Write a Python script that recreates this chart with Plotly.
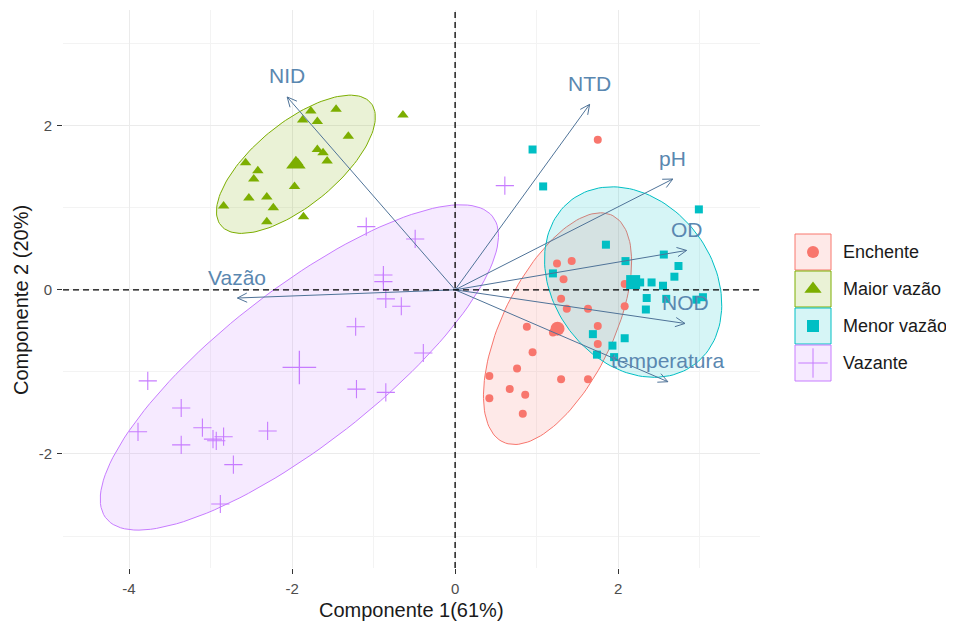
import numpy as np
import plotly.graph_objects as go

# ---------------- data ----------------
groups = ["Enchente", "Maior vazão", "Menor vazão", "Vazante"]
colors = ["#F8766D", "#7CAE00", "#00BFC4", "#C77CFF"]

ench_x = [1.75, 1.25, 1.43, 1.33, 2.08, 1.30, 1.37, 1.63, 2.08, 1.75, 0.88, 1.20, 1.75,
          0.95, 0.76, 0.42, 1.30, 1.63, 0.67, 0.86, 0.42, 0.83]
ench_y = [1.83, 0.32, 0.35, 0.13, 0.07, -0.11, -0.23, -0.23, -0.20, -0.44, -0.45, -0.52, -0.66,
          -0.76, -0.96, -1.05, -1.09, -1.09, -1.21, -1.28, -1.32, -1.51]

maior_x = [-1.77, -1.46, -0.64, -1.87, -1.69, -1.31, -1.69, -1.62, -1.57, -2.57, -2.42,
           -2.47, -1.97, -2.53, -2.31, -2.23, -2.84, -1.86, -2.31, -1.93]
maior_y = [2.18, 2.20, 2.13, 2.07, 2.05, 1.87, 1.71, 1.67, 1.57, 1.55, 1.45,
           1.35, 1.26, 1.12, 1.13, 1.00, 1.02, 0.89, 0.83, 1.55]

menor_x = [0.95, 1.08, 2.99, 1.85, 2.09, 2.56, 2.74, 1.20, 2.69, 2.18, 2.27, 2.41, 2.55,
           2.35, 2.59, 2.96, 3.04, 2.34, 1.69, 2.08, 1.93, 1.74, 1.95]
menor_y = [1.71, 1.26, 0.98, 0.55, 0.35, 0.43, 0.29, 0.20, 0.16, 0.09, 0.09, 0.09, 0.05,
           -0.10, -0.11, -0.12, -0.09, -0.24, -0.54, -0.59, -0.68, -0.79, -0.82]

vaz_x = [-1.09, -0.49, -0.88, -0.88, -0.85, -0.66, -1.22, -0.39, -1.21, -0.85, -3.77,
         -3.36, -3.89, -3.36, -3.10, -2.97, -2.93, -2.84, -2.30, -2.72, -2.88, 0.61]
vaz_y = [0.77, 0.62, 0.18, 0.10, -0.11, -0.20, -0.45, -0.77, -1.21, -1.25, -1.11,
         -1.44, -1.73, -1.89, -1.68, -1.82, -1.84, -1.79, -1.72, -2.13, -2.61, 1.27]

var_names = ["NID", "NTD", "pH", "OD", "NOD", "temperatura", "Vazão"]
var_x = [-2.06, 1.65, 2.67, 2.84, 2.82, 2.61, -2.67]
var_y = [2.35, 2.26, 1.35, 0.48, -0.41, -1.12, -0.10]

x_ticks = [-4, -2, 0, 2]
y_ticks = [-2, 0, 2]
x_title = "Componente 1(61%)"
y_title = "Componente 2 (20%)"

# ---------------- helpers ----------------
def rgba(hexc, a):
    h = hexc.lstrip("#")
    return "rgba(%d,%d,%d,%.3f)" % (int(h[0:2], 16), int(h[2:4], 16), int(h[4:6], 16), a)

def norm_ellipse(x, y, level=0.80, npts=140):
    x = np.asarray(x, float); y = np.asarray(y, float)
    n = len(x)
    c = np.array([x.mean(), y.mean()])
    cov = np.cov(np.vstack([x, y]))
    d = n - 1
    qf = (d / 2.0) * ((1 - level) ** (-2.0 / d) - 1)
    r = np.sqrt(2 * qf)
    vals, vecs = np.linalg.eigh(cov)
    t = np.linspace(0, 2 * np.pi, npts)
    circ = np.vstack([np.cos(t), np.sin(t)])
    pts = vecs @ (np.sqrt(vals)[:, None] * circ) * r
    return c[0] + pts[0], c[1] + pts[1]

FONT = "Liberation Sans, Arial"
data = [(ench_x, ench_y), (maior_x, maior_y), (menor_x, menor_y), (vaz_x, vaz_y)]
symbols = ["circle", "triangle-up", "square", "cross-thin"]
sizes = [8, 10, 8, 13]
big_sizes = [14, 17, 14, 24]

# page body has an 8px margin: the figure is sized to fit inside the window
PAGE_OFF = 8
W, H = 954 - PAGE_OFF, 630 - PAGE_OFF
ML, MT, MB = 63 - PAGE_OFF, 10 - PAGE_OFF, 62
PW = W - ML           # paper width in px
PH = H - MT - MB      # plot height in px
x_dom_end = (760 - 63) / PW

def px_to_paper_x(px):
    return (px - 63) / PW

def px_to_paper_y(py):
    return (568 - py) / PH

fig = go.Figure()

# ellipses
for (gx, gy), col in zip(data, colors):
    ex, ey = norm_ellipse(gx, gy)
    fig.add_trace(go.Scatter(x=ex, y=ey, mode="lines", fill="toself",
                             fillcolor=rgba(col, 0.16), line=dict(color=col, width=1),
                             hoverinfo="skip", showlegend=False))

# points
for (gx, gy), col, sym, sz, bsz, g in zip(data, colors, symbols, sizes, big_sizes, groups):
    if sym == "cross-thin":
        mk = dict(symbol=sym, size=sz, color=col, line=dict(color=col, width=1.1))
        mkb = dict(symbol=sym, size=bsz, color=col, line=dict(color=col, width=1.3))
    else:
        mk = dict(symbol=sym, size=sz, color=col, line=dict(width=0))
        mkb = dict(symbol=sym, size=bsz, color=col, line=dict(width=0))
    fig.add_trace(go.Scatter(x=gx, y=gy, mode="markers", marker=mk, name=g, showlegend=False))
    fig.add_trace(go.Scatter(x=[np.mean(gx)], y=[np.mean(gy)], mode="markers", marker=mkb,
                             showlegend=False, hoverinfo="skip"))

# variable arrows
arrow_col = "#4f7398"
label_col = "#5a87b0"
hl = 0.13
for name, vx, vy in zip(var_names, var_x, var_y):
    ang = np.arctan2(vy, vx)
    hx1 = vx - hl * np.cos(ang - np.pi / 7); hy1 = vy - hl * np.sin(ang - np.pi / 7)
    hx2 = vx - hl * np.cos(ang + np.pi / 7); hy2 = vy - hl * np.sin(ang + np.pi / 7)
    fig.add_trace(go.Scatter(x=[0, vx, None, hx1, vx, hx2], y=[0, vy, None, hy1, vy, hy2],
                             mode="lines", line=dict(color=arrow_col, width=1),
                             hoverinfo="skip", showlegend=False))
    fig.add_annotation(x=vx, y=vy, text=name, showarrow=False, yshift=21,
                       font=dict(family=FONT, size=21, color=label_col))

# zero lines
fig.add_shape(type="line", xref="x", yref="paper", x0=0, x1=0, y0=0, y1=1,
              line=dict(color="black", width=1.3, dash="6px,4px"), layer="above")
fig.add_shape(type="line", xref="paper", yref="y", x0=0, x1=x_dom_end, y0=0, y1=0,
              line=dict(color="black", width=1.3, dash="6px,4px"), layer="above")

# axis titles
fig.add_annotation(x=px_to_paper_x(411), y=px_to_paper_y(610), xref="paper", yref="paper",
                   text=x_title, showarrow=False, xanchor="center", yanchor="middle",
                   font=dict(family=FONT, size=20, color="#1a1a1a"))
fig.add_annotation(x=px_to_paper_x(21), y=px_to_paper_y(300), xref="paper", yref="paper",
                   text=y_title, showarrow=False, xanchor="center", yanchor="middle",
                   textangle=-90, font=dict(family=FONT, size=20, color="#1a1a1a"))

# custom legend (pixel-like overlay axes in the right margin)
key_top = [234, 271, 308, 345]
key_h = 36
key_sizes = [12, 15, 12, 21]
for i, (g, col, sym) in enumerate(zip(groups, colors, symbols)):
    y0 = key_top[i]
    fig.add_shape(type="rect", xref="x2", yref="y2", x0=795, x1=831, y0=y0, y1=y0 + key_h,
                  fillcolor=rgba(col, 0.16), line=dict(color=col, width=1))
    if sym == "cross-thin":
        mk = dict(symbol=sym, size=key_sizes[i], color=col, line=dict(color=col, width=1))
    else:
        mk = dict(symbol=sym, size=key_sizes[i], color=col, line=dict(width=0))
    fig.add_trace(go.Scatter(x=[813], y=[y0 + key_h / 2], xaxis="x2", yaxis="y2",
                             mode="markers", marker=mk, showlegend=False, hoverinfo="skip"))
    fig.add_annotation(x=841, y=y0 + key_h / 2, xref="x2", yref="y2", text=g,
                       showarrow=False, xanchor="left",
                       font=dict(family=FONT, size=18, color="#1a1a1a"))

axis_font = dict(family=FONT, size=15, color="#4d4d4d")
fig.update_layout(
    width=W, height=H,
    margin=dict(l=ML, r=0, t=MT, b=MB, pad=0),
    paper_bgcolor="white", plot_bgcolor="white",
    showlegend=False,
    font=dict(family=FONT),
    xaxis=dict(domain=[0, x_dom_end], range=[-4.81, 3.74], tickvals=x_ticks,
               ticktext=[str(v) for v in x_ticks], ticks="outside", ticklen=5,
               tickcolor="#333333", tickwidth=1, tickfont=axis_font, ticklabelstandoff=2,
               showgrid=True, gridcolor="#EBEBEB", gridwidth=1, zeroline=False,
               minor=dict(dtick=1, tick0=1, showgrid=True, gridcolor="#F3F3F3", gridwidth=1),
               showline=False, automargin=False),
    yaxis=dict(range=[-3.39, 3.41], tickvals=y_ticks, ticktext=[str(v) for v in y_ticks],
               ticks="outside", ticklen=5, tickcolor="#333333", tickwidth=1,
               tickfont=axis_font, ticklabelstandoff=2, showgrid=True, gridcolor="#EBEBEB",
               gridwidth=1, zeroline=False,
               minor=dict(dtick=1, tick0=1, showgrid=True, gridcolor="#F3F3F3", gridwidth=1),
               showline=False, automargin=False),
    xaxis2=dict(domain=[px_to_paper_x(780), 1], range=[780, 954], visible=False,
                fixedrange=True, anchor="y2", automargin=False),
    yaxis2=dict(domain=[0, 1], range=[568, 10], visible=False, fixedrange=True,
                anchor="x2", automargin=False),
)

fig.write_html("out.html")
